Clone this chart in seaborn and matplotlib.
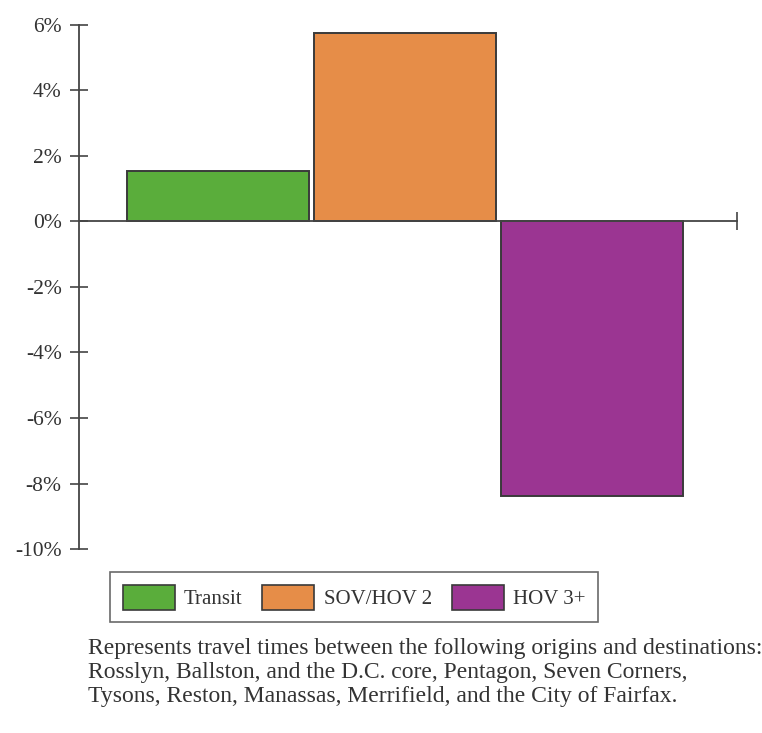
import matplotlib
matplotlib.use("Agg")
import matplotlib.pyplot as plt
import seaborn as sns
import pandas as pd
from matplotlib.patches import Patch

# Percent change in travel time by mode
modes = ["Transit", "SOV/HOV 2", "HOV 3+"]
change_pct = [1.53, 5.75, -8.38]
colors = ["#5aad3b", "#e68d48", "#9b3592"]
yticks = [6, 4, 2, 0, -2, -4, -6, -8, -10]
ytick_labels = [f"{v}%" for v in yticks]
caption = ("Represents travel times between the following origins and destinations:\n"
           "Rosslyn, Ballston, and the D.C. core, Pentagon, Seven Corners,\n"
           "Tysons, Reston, Manassas, Merrifield, and the City of Fairfax.")

sns.set_theme(style="white")
plt.rcParams["font.family"] = ["Liberation Serif", "DejaVu Serif"]
ink = "#333333"

fig = plt.figure(figsize=(7.62, 7.33), dpi=100)
ax = fig.add_axes([0.1037, 0.251, 0.8633, 0.715])

df = pd.DataFrame({"mode": modes, "change": change_pct})
sns.barplot(data=df, x="mode", y="change", hue="mode", order=modes,
            hue_order=modes, palette=colors, saturation=1, width=0.97,
            edgecolor="#3a3a3a", linewidth=1.4, legend=False, ax=ax)

xmin, xmax = -0.743, 2.775
ax.set_xlim(xmin, xmax)
ax.set_ylim(-10, 6)
ax.set_yticks(yticks)
ax.set_yticklabels(ytick_labels, fontsize=15.5, color=ink)
ax.set_xticks([xmax])
ax.set_xticklabels([""])
ax.set_xlabel("")
ax.set_ylabel("")

for side in ["top", "right"]:
    ax.spines[side].set_visible(False)
ax.spines["bottom"].set_position(("data", 0))
for side in ["left", "bottom"]:
    ax.spines[side].set_color("#444444")
    ax.spines[side].set_linewidth(1.3)
ax.tick_params(axis="both", direction="inout", length=13, width=1.2,
               color="#444444", left=True, bottom=True)
ax.tick_params(axis="y", pad=6)

handles = [Patch(facecolor=c, edgecolor="#3a3a3a", linewidth=1.2) for c in colors]
fig.legend(handles, modes, loc="upper left",
           bbox_to_anchor=(110 / 762, 1 - 572 / 733), ncol=3, frameon=True,
           fancybox=False, edgecolor="#444444", borderaxespad=0,
           handlelength=2.5, handleheight=1.5, handletextpad=0.45,
           columnspacing=0.95, fontsize=15, borderpad=0.6,
           labelcolor=ink)
leg = fig.legends[0]
leg.get_frame().set_linewidth(1.2)

fig.text(88 / 762, 1 - 638 / 733, caption, ha="left", va="top",
         fontsize=17, color=ink, linespacing=1.2)

fig.savefig("out.png", dpi=100, facecolor="white")
